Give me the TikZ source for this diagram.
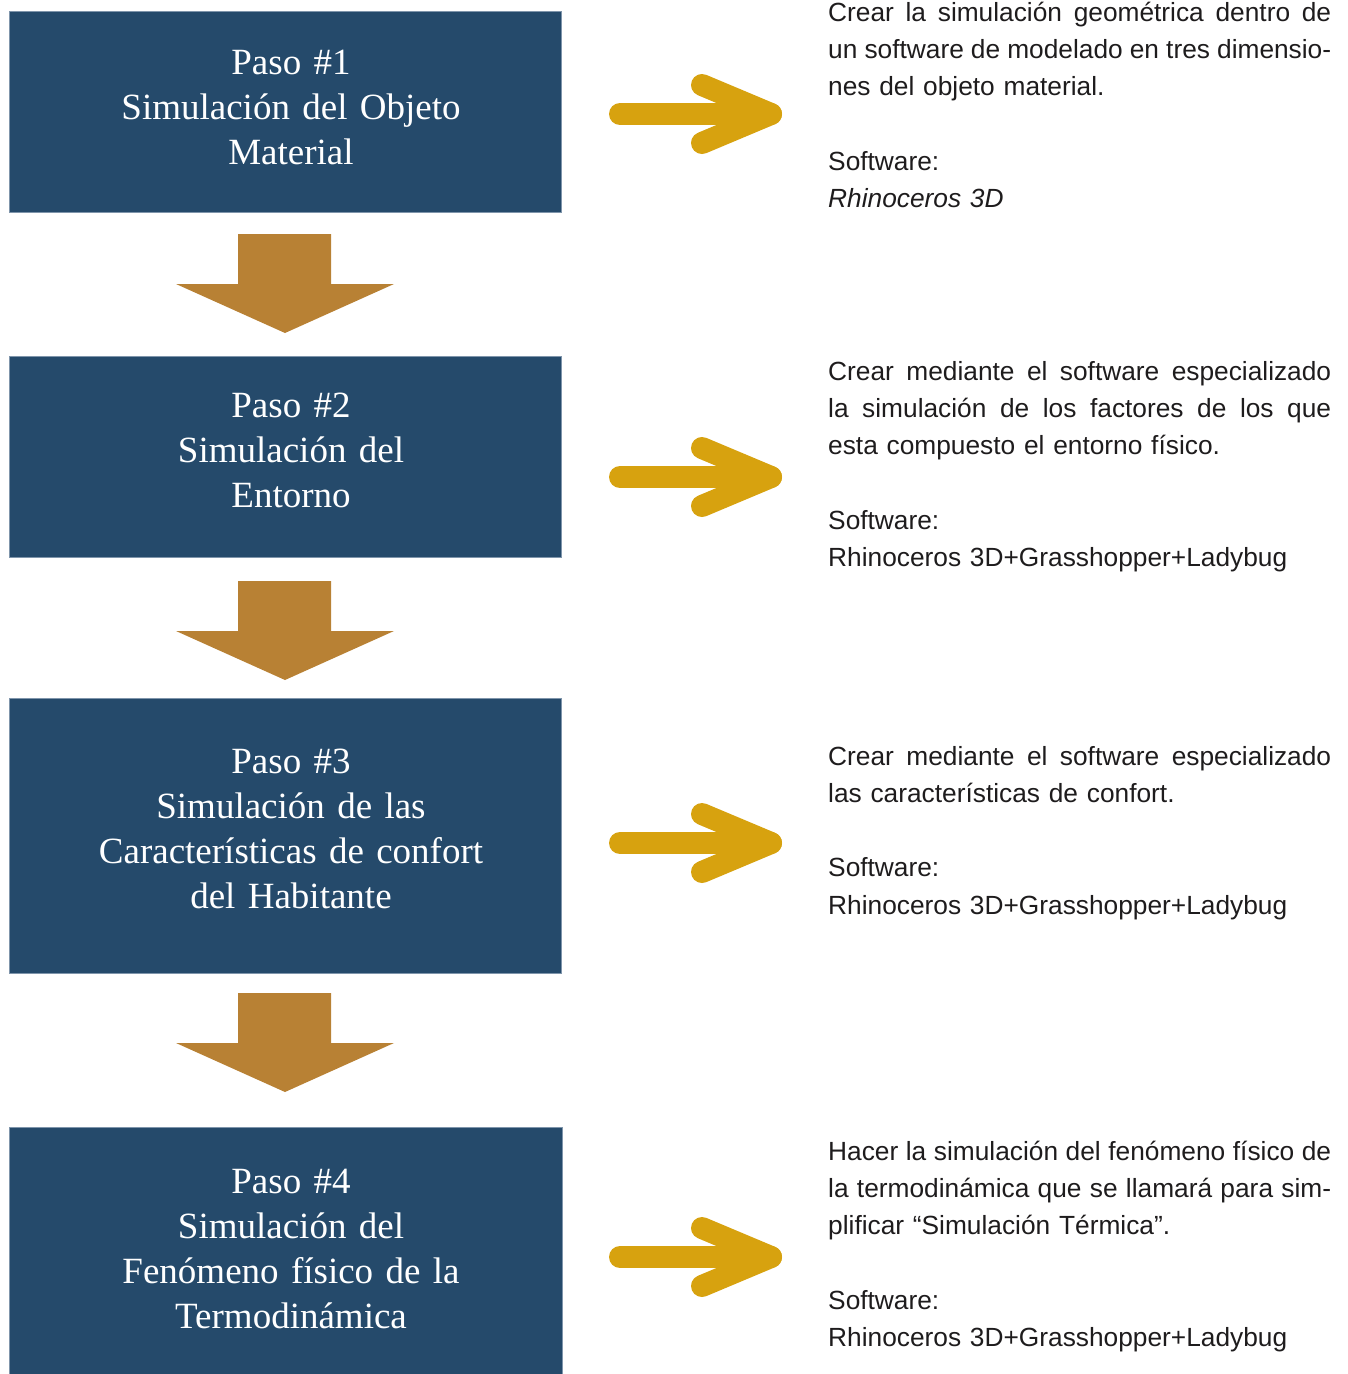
\documentclass[tikz,border=0pt]{standalone}
\usepackage{fontspec}
\setmainfont{Liberation Serif}
\newfontfamily\descfont{Liberation Sans}

\definecolor{boxblue}{HTML}{254A6B}
\definecolor{boxedge}{HTML}{7F95AB}
\definecolor{flowbrown}{HTML}{B88134}
\definecolor{pointgold}{HTML}{D7A20F}
\definecolor{desctext}{HTML}{1E1C1D}

% one justified line of the description column
\newcommand{\jline}[1]{\leavevmode\hbox to 503pt{\spaceskip=0.278em plus 1em minus 0.12em\relax #1}}

\begin{document}
\begin{tikzpicture}[x=1pt,y=-1pt,
  stepbox/.style={fill=boxblue,draw=boxedge,line width=0.8pt},
  steptext/.style={text=white,align=center,text width=540pt,inner sep=0pt,
    anchor=base,font=\fontsize{37}{45}\selectfont},
  flowarrow/.style={fill=flowbrown},
  pointer/.style={draw=pointgold,line width=22pt,line cap=round,line join=round},
  desc/.style={anchor=base west,text width=503pt,inner sep=0pt,align=left,
    text=desctext,font=\descfont\fontsize{26.3}{37.3}\selectfont}]

\useasboundingbox (0,0) rectangle (1348,1374);

% step boxes
\path[stepbox] (9,11) rectangle (561,212);
\path[stepbox] (9,356) rectangle (561,557);
\path[stepbox] (9,698) rectangle (561,973);
\path[stepbox] (9,1127) rectangle (562,1380);

\node[steptext] (s1) at (291,74) {Paso \#1\\Simulación del Objeto\\Material};
\node[steptext] (s2) at (291,417) {Paso \#2\\Simulación del\\Entorno};
\node[steptext] (s3) at (291,773) {Paso \#3\\Simulación de las\\Características de confort\\del Habitante};
\node[steptext] (s4) at (291,1193) {Paso \#4\\Simulación del\\Fenómeno físico de la\\Termodinámica};

% downward block arrows between the steps
\foreach \t in {234,581,993}{
  \path[flowarrow] (238,\t) -- (331,\t) -- (331,\t+50) -- (394,\t+50)
    -- (285,\t+99) -- (176,\t+50) -- (238,\t+50) -- cycle;
}

% pointers towards the descriptions
\foreach \c in {114,477,843,1257}{
  \draw[pointer] (620,\c) -- (771,\c);
  \draw[pointer] (702,\c-29) -- (771,\c) -- (702,\c+29);
}

% descriptions
\node[desc] (d1) at (828,21) {\jline{Crear la simulación geométrica dentro de}\\
  \jline{un software de modelado en tres dimensio-}\\
  nes del objeto material.\\[37.3pt]
  Software:\\
  \textit{Rhinoceros 3D}};
\node[desc] (d2) at (828,380) {\jline{Crear mediante el software especializado}\\
  \jline{la simulación de los factores de los que}\\
  esta compuesto el entorno físico.\\[37.3pt]
  Software:\\
  Rhinoceros 3D+Grasshopper+Ladybug};
\node[desc] (d3) at (828,765) {\jline{Crear mediante el software especializado}\\
  las características de confort.\\[37.3pt]
  Software:\\
  Rhinoceros 3D+Grasshopper+Ladybug};
\node[desc] (d4) at (828,1160) {\jline{Hacer la simulación del fenómeno físico de}\\
  \jline{la termodinámica que se llamará para sim-}\\
  plificar “Simulación Térmica”.\\[37.3pt]
  Software:\\
  Rhinoceros 3D+Grasshopper+Ladybug};
\end{tikzpicture}
\end{document}
